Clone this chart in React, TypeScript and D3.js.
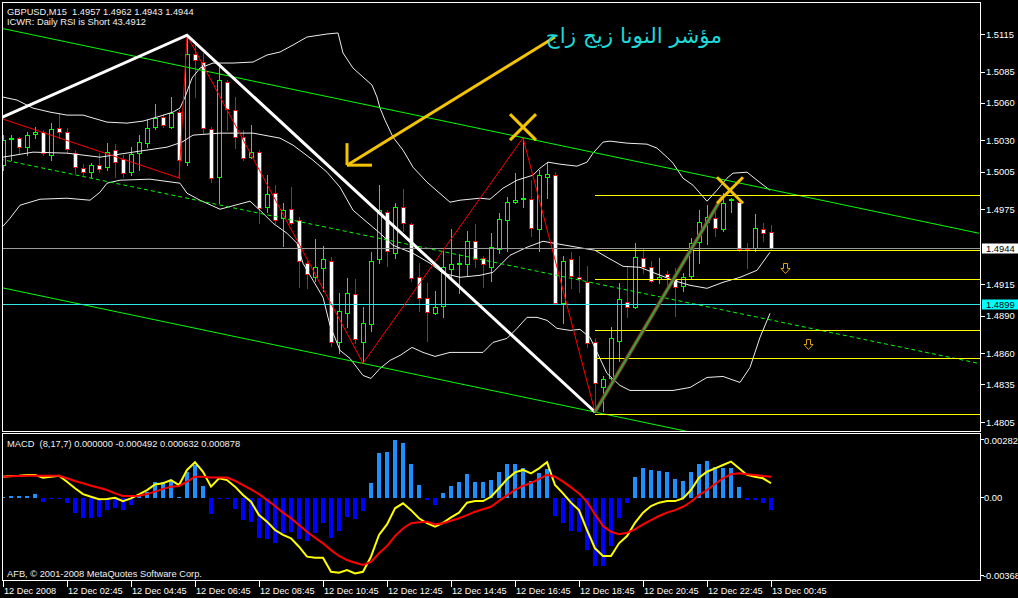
import React from "react";
import * as d3 from "d3";

// ---------- texts ----------
const symbolHeader = "GBPUSD,M15  1.4957 1.4962 1.4943 1.4944";
const infoLine = "ICWR: Daily RSI is Short 43.4912";
const macdHeader = "MACD  (8,17,7) 0.000000 -0.000492 0.000632 0.000878";
const copyright = "AFB, © 2001-2008 MetaQuotes Software Corp.";
const arabicNote = "مؤشر النونا زيج زاج";

// ---------- candles (M15, bar 0 .. 96) ----------
const opens = [
  1.5010, 1.5031, 1.5032, 1.5025, 1.5035, 1.5037, 1.5018, 1.5040, 1.5037, 1.5020,
  1.5008, 1.5005, 1.5010, 1.5009, 1.5022, 1.5015, 1.5005, 1.5020, 1.5028, 1.5041,
  1.5049, 1.5041, 1.5053, 1.5013, 1.5099, 1.5093, 1.5039, 1.5001, 1.5077, 1.5054,
  1.5033, 1.5017, 1.5021, 1.4977, 1.4988, 1.4968, 1.4975, 1.4966, 1.4932, 1.4921,
  1.4928, 1.4934, 1.4869, 1.4892, 1.4907, 1.4869, 1.4883, 1.4935, 1.4973, 1.4940,
  1.4977, 1.4963, 1.4921, 1.4904, 1.4892, 1.4898, 1.4927, 1.4931, 1.4931, 1.4950,
  1.4936, 1.4929, 1.4943, 1.4966, 1.4981, 1.4983, 1.4983, 1.4959, 1.5001, 1.5002,
  1.4900, 1.4935, 1.4921, 1.4917, 1.4869, 1.4833, 1.4840, 1.4870, 1.4901, 1.4897,
  1.4936, 1.4929, 1.4919, 1.4923, 1.4919, 1.4914, 1.4922, 1.4949, 1.4965, 1.4968,
  1.4959, 1.4982, 1.4981, 1.4944, 1.4944, 1.4959, 1.4957,
];
const highs = [
  1.5034, 1.5034, 1.5033, 1.5037, 1.5041, 1.5038, 1.5044, 1.5052, 1.5040, 1.5022,
  1.5011, 1.5012, 1.5020, 1.5028, 1.5027, 1.5018, 1.5025, 1.5034, 1.5046, 1.5059,
  1.5051, 1.5065, 1.5054, 1.5114, 1.5108, 1.5100, 1.5041, 1.5089, 1.5078, 1.5065,
  1.5038, 1.5042, 1.5022, 1.5002, 1.4994, 1.4980, 1.4993, 1.4969, 1.4934, 1.4951,
  1.4946, 1.4937, 1.4908, 1.4920, 1.4919, 1.4897, 1.4941, 1.4994, 1.4974, 1.4980,
  1.4991, 1.4964, 1.4932, 1.4916, 1.4910, 1.4942, 1.4959, 1.4939, 1.4958, 1.4963,
  1.4938, 1.4956, 1.4972, 1.4985, 1.5004, 1.5032, 1.4998, 1.5006, 1.5013, 1.5005,
  1.4938, 1.4941, 1.4938, 1.4930, 1.4872, 1.4842, 1.4881, 1.4916, 1.4930, 1.4948,
  1.4944, 1.4934, 1.4936, 1.4926, 1.4928, 1.4924, 1.4952, 1.4974, 1.4978, 1.4974,
  1.4988, 1.4984, 1.4984, 1.4948, 1.4971, 1.4964, 1.4962,
];
const lows = [
  1.5006, 1.5014, 1.5020, 1.5018, 1.5032, 1.5018, 1.5014, 1.5032, 1.5020, 1.5004,
  1.5002, 1.5001, 1.5005, 1.5006, 1.5001, 1.5001, 1.5002, 1.5006, 1.5025, 1.5039,
  1.5041, 1.5040, 1.5000, 1.5010, 1.5065, 1.5036, 1.4997, 1.4980, 1.5038, 1.5024,
  1.5014, 1.5016, 1.4964, 1.4973, 1.4964, 1.4946, 1.4963, 1.4913, 1.4912, 1.4918,
  1.4910, 1.4866, 1.4860, 1.4881, 1.4868, 1.4852, 1.4878, 1.4932, 1.4930, 1.4936,
  1.4958, 1.4918, 1.4894, 1.4870, 1.4891, 1.4889, 1.4921, 1.4908, 1.4922, 1.4929,
  1.4913, 1.4918, 1.4940, 1.4942, 1.4980, 1.4977, 1.4954, 1.4942, 1.4984, 1.4899,
  1.4884, 1.4912, 1.4909, 1.4865, 1.4813, 1.4814, 1.4836, 1.4854, 1.4889, 1.4896,
  1.4924, 1.4917, 1.4916, 1.4914, 1.4890, 1.4910, 1.4920, 1.4932, 1.4947, 1.4954,
  1.4958, 1.4973, 1.4942, 1.4928, 1.4942, 1.4950, 1.4943,
];
const closes = [
  1.5030, 1.5032, 1.5025, 1.5034, 1.5037, 1.5020, 1.5039, 1.5037, 1.5023, 1.5009,
  1.5005, 1.5010, 1.5007, 1.5021, 1.5013, 1.5004, 1.5019, 1.5029, 1.5040, 1.5048,
  1.5042, 1.5052, 1.5014, 1.5099, 1.5094, 1.5040, 1.5000, 1.5078, 1.5055, 1.5033,
  1.5016, 1.5021, 1.4976, 1.4987, 1.4966, 1.4974, 1.4964, 1.4934, 1.4923, 1.4929,
  1.4935, 1.4869, 1.4894, 1.4908, 1.4871, 1.4884, 1.4934, 1.4974, 1.4942, 1.4977,
  1.4964, 1.4920, 1.4904, 1.4893, 1.4897, 1.4929, 1.4931, 1.4932, 1.4950, 1.4935,
  1.4931, 1.4945, 1.4967, 1.4981, 1.4982, 1.4984, 1.4960, 1.5002, 1.5003, 1.4900,
  1.4934, 1.4922, 1.4919, 1.4868, 1.4836, 1.4839, 1.4872, 1.4903, 1.4897, 1.4937,
  1.4929, 1.4918, 1.4921, 1.4921, 1.4913, 1.4921, 1.4948, 1.4965, 1.4969, 1.4960,
  1.4980, 1.4983, 1.4943, 1.4943, 1.4960, 1.4956, 1.4944,
];

// ---------- Bollinger bands, read as [bar, price] ----------
const upperBand: [number, number][] = [
  [0, 1.50646], [1.75, 1.50622], [3.75, 1.50558], [5.875, 1.50526], [8, 1.50502], [10, 1.50502],
  [13, 1.50446], [15.5, 1.50438], [17.5, 1.50454], [19.25, 1.50486], [21.25, 1.50526], [22.125, 1.50558],
  [22.75, 1.50646], [23.625, 1.50798], [24.625, 1.50878], [26.25, 1.50918], [28.75, 1.50918], [31.25, 1.50926],
  [33, 1.50982], [34.625, 1.51006], [36.25, 1.51062], [38, 1.51126], [40.5, 1.5115], [41.875, 1.51158],
  [42.5, 1.50998], [43.75, 1.50878], [45, 1.50806], [46.125, 1.50742], [46.75, 1.50646], [47.125, 1.50558],
  [47.75, 1.50462], [48.75, 1.50326], [50, 1.50222], [51.25, 1.50086], [53, 1.49966], [55.875, 1.49806],
  [57.125, 1.49822], [59.625, 1.49838], [60.875, 1.4983], [62.5, 1.49918], [64.25, 1.49982], [66.25, 1.50022],
  [67.125, 1.50078], [68.125, 1.50126], [69.625, 1.5011], [71.75, 1.50094], [73, 1.50126], [73.75, 1.50198],
  [75, 1.50286], [75.875, 1.50294], [78, 1.50278], [80.5, 1.5027], [81.75, 1.50238], [83, 1.50166],
  [83.75, 1.50118], [85, 1.49998], [86.25, 1.49942], [88, 1.49814], [89.25, 1.49902], [90.5, 1.49998],
  [91.25, 1.50038], [93, 1.50046], [94.25, 1.49982], [95.875, 1.49902],
];
const middleBand: [number, number][] = [
  [0, 1.50166], [3.75, 1.50206], [8, 1.50198], [12.125, 1.50166], [16.25, 1.50206], [20.5, 1.50246],
  [22.375, 1.50286], [23.75, 1.50342], [27.125, 1.50358], [31.25, 1.50358], [34.625, 1.50318], [36.25, 1.50262],
  [38.75, 1.50142], [40.5, 1.50046], [42.125, 1.49926], [43.75, 1.49742], [45.5, 1.49646], [47.125, 1.49558],
  [48.75, 1.49462], [51.25, 1.49398], [53.375, 1.49318], [55, 1.49238], [57.125, 1.49206], [59.625, 1.49222],
  [61.25, 1.49246], [63.375, 1.49382], [65.5, 1.49446], [67.5, 1.49494], [69.625, 1.4947], [72.5, 1.49438],
  [74, 1.49422], [75.5, 1.49366], [77.5, 1.49294], [79.625, 1.49286], [83.75, 1.49182], [85.875, 1.49142],
  [88, 1.49118], [90, 1.49166], [92.125, 1.49206], [94.25, 1.49262], [95.875, 1.49406],
];
const lowerBand: [number, number][] = [
  [0, 1.49614], [0.875, 1.49678], [2.125, 1.49782], [4.625, 1.4983], [8, 1.49838], [10.875, 1.49822],
  [12.125, 1.49886], [13, 1.49958], [14.625, 1.49982], [18.375, 1.4999], [22.125, 1.49958], [23, 1.49878],
  [24.625, 1.49822], [27.125, 1.4975], [30.875, 1.49814], [32.125, 1.49742], [33.75, 1.49638], [35.5, 1.49558],
  [36.75, 1.49478], [37.5, 1.49318], [38.75, 1.49182], [40, 1.49046], [40.875, 1.48822], [42.125, 1.48622],
  [43.375, 1.48558], [45, 1.48422], [46, 1.48398], [47.125, 1.48478], [48.375, 1.48542], [49.625, 1.48582],
  [51.125, 1.48646], [52.5, 1.48606], [54, 1.48574], [55.875, 1.48606], [60, 1.48606], [61.25, 1.48686],
  [63, 1.48718], [64.25, 1.48798], [65.5, 1.48886], [66.75, 1.48886], [68, 1.48862], [69.25, 1.48798],
  [70.875, 1.48782], [72.125, 1.4879], [73.375, 1.48726], [75.5, 1.48438], [77.125, 1.48342], [78.375, 1.48302],
  [83.75, 1.48302], [85.875, 1.48326], [88, 1.48406], [90, 1.48414], [92.125, 1.48366], [93.375, 1.48486],
  [94.625, 1.48726], [95.875, 1.48918],
];

// ---------- MACD panel ----------
const macdHist = [
  0.00002, 0.00007, 0.00007, 0.00009, 0.00016, -0.00018, -0.00006, -0.00003, -0.00025, -0.00066,
  -0.00089, -0.00089, -0.00084, -0.00054, -0.00044, -0.00054, -0.00032, 0.00009, 0.00027, 0.00071,
  0.00071, 0.00078, 0.00004, 0.00115, 0.00145, 0.00052, -0.0007, -0.00003, -0.00003, -0.0005,
  -0.00099, -0.00106, -0.00177, -0.00183, -0.00199, -0.00158, -0.00154, -0.00183, -0.0019, -0.00158,
  -0.00111, -0.00177, -0.00146, -0.00084, -0.00094, -0.00059, 0.00066, 0.00199, 0.00204, 0.00256,
  0.00244, 0.00148, 0.00056, -0.00008, -0.00032, 0.00022, 0.00052, 0.00068, 0.00105, 0.00071,
  0.00068, 0.00078, 0.00115, 0.00148, 0.00148, 0.00132, 0.00075, 0.00108, 0.00127, -0.0008,
  -0.00114, -0.00146, -0.00154, -0.0023, -0.00301, -0.00301, -0.00213, -0.00092, -0.00025, 0.0009,
  0.0013, 0.00124, 0.0012, 0.00112, 0.00081, 0.00075, 0.00112, 0.00148, 0.00161, 0.00134,
  0.00132, 0.00132, 0.00046, -0.00012, -0.00012, -0.00025, -0.00053,
];
const macdMain = [
  0.00093, 0.00096, 0.00097, 0.00101, 0.00101, 0.00089, 0.00093, 0.00097, 0.00071, 0.00042,
  0.00016, 0.00004, -0.00007, -0.00006, 0.0, -0.00015, -0.00003, 0.00015, 0.00034, 0.00059,
  0.00064, 0.00078, 0.00056, 0.00123, 0.00157, 0.00115, 0.00049, 0.00086, 0.00078, 0.00049,
  0.00012, -0.00018, -0.00077, -0.00106, -0.00143, -0.00165, -0.0018, -0.00217, -0.00261, -0.00266,
  -0.00266, -0.00328, -0.00332, -0.0032, -0.00335, -0.00328, -0.00261, -0.00165, -0.00118, -0.00047,
  -0.00025, -0.00055, -0.00091, -0.00113, -0.00128, -0.00111, -0.00087, -0.00066, -0.00022, -0.00015,
  -0.00015, 0.00004, 0.00042, 0.00082, 0.00112, 0.00123, 0.00108, 0.0013, 0.00157, 0.00056,
  0.00019, -0.00022, -0.00055, -0.00143, -0.00224, -0.00258, -0.00258, -0.00202, -0.0017, -0.00111,
  -0.00066, -0.00037, -0.00022, -0.00015, -0.00015, -0.00003, 0.00034, 0.00089, 0.00115, 0.0013,
  0.00145, 0.0016, 0.0013, 0.00101, 0.00093, 0.00086, 0.00064,
];
const macdSignal = [
  0.00093, 0.00095, 0.00096, 0.00097, 0.00097, 0.00097, 0.00097, 0.00097, 0.00086, 0.00074,
  0.00064, 0.00053, 0.00044, 0.00034, 0.00019, 0.00008, 0.00008, 0.00009, 0.00016, 0.00027,
  0.00039, 0.00049, 0.00052, 0.00071, 0.00093, 0.00093, 0.00089, 0.00089, 0.00089, 0.00075,
  0.00056, 0.00037, 0.00016, -0.0001, -0.00037, -0.00066, -0.00091, -0.00121, -0.00151, -0.00177,
  -0.00202, -0.00232, -0.00258, -0.00276, -0.00288, -0.00298, -0.00284, -0.00246, -0.00214, -0.0017,
  -0.00136, -0.00113, -0.00109, -0.00106, -0.00118, -0.00113, -0.00102, -0.00091, -0.00077, -0.00062,
  -0.00051, -0.0004, -0.00014, 0.0001, 0.00035, 0.00052, 0.00066, 0.00082, 0.00101, 0.00093,
  0.00071, 0.00046, 0.00019, -0.00018, -0.00074, -0.00125, -0.00151, -0.00162, -0.00155, -0.0014,
  -0.00118, -0.00099, -0.00081, -0.00066, -0.00055, -0.0004, -0.00018, 0.00012, 0.00034, 0.00061,
  0.00086, 0.00104, 0.00108, 0.00104, 0.00101, 0.00096, 0.00093,
];

// ---------- axes ----------
const priceTicks = [1.5115, 1.5085, 1.506, 1.503, 1.5005, 1.4975, 1.4915, 1.489, 1.486, 1.4835, 1.4805];
const bidPrice = 1.4944;
const alertPrice = 1.4899;
const dateTickBars = [0, 8, 16, 24, 32, 40, 48, 56, 64, 72, 80, 88, 96];
const dateTickLabels = [
  "12 Dec 2008", "12 Dec 02:45", "12 Dec 04:45", "12 Dec 06:45", "12 Dec 08:45", "12 Dec 10:45",
  "12 Dec 12:45", "12 Dec 14:45", "12 Dec 16:45", "12 Dec 18:45", "12 Dec 20:45", "12 Dec 22:45",
  "13 Dec 00:45",
];
const macdMax = 0.002821;
const macdMin = -0.003688;
const macdTickLabels = ["0.002821", "0.00", "-0.003688"];

// ---------- chart objects ----------
const channelBars = [-0.375, 122];
const channelUpper = [1.51198, 1.49558];
const channelMiddle = [1.5015, 1.48518];
const channelLower = [1.49126, 1.47486];
const redZigzag: [number, number][] = [
  [-0.375, 1.50478], [22, 1.5], [23, 1.5114], [45, 1.4852], [65, 1.5032], [74, 1.4813], [90, 1.4986],
];
const whiteZigzag: [number, number][] = [[-0.375, 1.50478], [23, 1.5114], [74, 1.4813]];
const trendLine: [number, number][] = [[74, 1.4813], [90, 1.4986]];
const fibStartBar = 74;
const fibLevels = [1.4986, 1.49428, 1.49196, 1.48788, 1.48558, 1.48116];
const arrowTail: [number, number] = [69, 1.51126];
const arrowHead: [number, number] = [43, 1.50102];
const crossMarks: [number, number][] = [[65, 1.50406], [90.875, 1.49902]];
const downArrows: [number, number][] = [[97.75, 1.49278], [100.625, 1.4867]];
const noteAnchor: [number, number] = [89.875, 1.5108];

const FONT = "'Liberation Sans', Arial, sans-serif";

export default function App() {
  const x = d3.scaleLinear().domain([0, 96]).range([3, 771]);
  const y = d3.scaleLinear().domain([1.4805, 1.5115]).range([422, 34]);
  const ym = d3.scaleLinear().domain([macdMin, macdMax]).range([581, 434]);
  const pl = d3.line<[number, number]>().x((d) => x(d[0])).y((d) => y(d[1]));
  const ml = d3
    .line<number>()
    .x((_, i) => x(i))
    .y((d) => ym(d));

  const right = 980;
  const mainBottom = 431;
  const macdTop = 433;
  const macdBottom = 580;
  const zeroY = Math.round(ym(0));

  const channel = (vals: number[]) =>
    pl([
      [channelBars[0], vals[0]],
      [channelBars[1], vals[1]],
    ]);

  const [ax, ay] = [x(arrowHead[0]), y(arrowHead[1])];

  return (
    <svg
      width={1018}
      height={598}
      style={{ position: "absolute", left: 0, top: 0, background: "#000" }}
      fontFamily={FONT}
    >
      <defs>
        <clipPath id="mainClip">
          <rect x={3} y={3} width={right - 3} height={mainBottom - 3} />
        </clipPath>
        <clipPath id="macdClip">
          <rect x={3} y={macdTop + 1} width={right - 3} height={macdBottom - macdTop - 1} />
        </clipPath>
      </defs>
      <rect x={0} y={0} width={1018} height={598} fill="#000" />

      {/* ---------- main panel ---------- */}
      <g clipPath="url(#mainClip)">
        {/* candles */}
        <g shapeRendering="crispEdges">
          {opens.map((o, i) => {
            const c = closes[i];
            const bull = c >= o;
            const cx = Math.round(x(i));
            const col = bull ? "#00FF00" : "#FF0000";
            const yt = Math.round(y(Math.max(o, c)));
            const yb = Math.round(y(Math.min(o, c)));
            return (
              <g key={i}>
                <line
                  x1={cx + 0.5}
                  x2={cx + 0.5}
                  y1={Math.round(y(highs[i]))}
                  y2={Math.round(y(lows[i])) + 1}
                  stroke={col}
                />
                <rect
                  x={cx - 1.5}
                  y={yt + 0.5}
                  width={4}
                  height={Math.max(0, yb - yt)}
                  fill={bull ? "#000" : "#FFF"}
                  stroke={col}
                />
              </g>
            );
          })}
        </g>

        {/* bollinger bands */}
        {[upperBand, middleBand, lowerBand].map((b, k) => (
          <path key={k} d={pl(b) || ""} fill="none" stroke="#EDEDED" strokeWidth={1} />
        ))}

        {/* channel */}
        <path d={channel(channelUpper) || ""} stroke="#00FF00" strokeWidth={1} fill="none" />
        <path d={channel(channelMiddle) || ""} stroke="#00FF00" strokeWidth={1} strokeDasharray="4,3" fill="none" />
        <path d={channel(channelLower) || ""} stroke="#00FF00" strokeWidth={1} fill="none" />

        {/* bid & alert lines */}
        <line x1={3} x2={right} y1={Math.round(y(bidPrice)) + 0.5} y2={Math.round(y(bidPrice)) + 0.5} stroke="#9A9A9A" />
        <line x1={3} x2={right} y1={Math.round(y(alertPrice)) + 0.5} y2={Math.round(y(alertPrice)) + 0.5} stroke="#33E6E6" />

        {/* fib levels */}
        {fibLevels.map((p, k) => (
          <line
            key={k}
            x1={x(fibStartBar)}
            x2={right}
            y1={Math.round(y(p)) + 0.5}
            y2={Math.round(y(p)) + 0.5}
            stroke="#FFFF00"
          />
        ))}

        {/* zigzags */}
        <path d={pl(redZigzag) || ""} fill="none" stroke="#FF0000" strokeWidth={1} />
        <path d={pl(whiteZigzag) || ""} fill="none" stroke="#FFFFFF" strokeWidth={3} />
        <path d={pl(trendLine) || ""} fill="none" stroke="#8A2A1A" strokeWidth={4} />
        <path d={pl(trendLine) || ""} fill="none" stroke="#3A9E3A" strokeWidth={2.2} />

        {/* yellow arrow */}
        <g stroke="#F5C400" strokeWidth={3} fill="none" strokeLinecap="butt">
          <line x1={x(arrowTail[0])} y1={y(arrowTail[1])} x2={ax} y2={ay} />
          <line x1={ax} y1={ay} x2={ax} y2={ay - 22} />
          <line x1={ax} y1={ay} x2={ax + 25} y2={ay} />
        </g>

        {/* crosses */}
        {crossMarks.map(([b, p], k) => {
          const cx = x(b);
          const cy = y(p);
          return (
            <g key={k} stroke="#F5C400" strokeWidth={3}>
              <line x1={cx - 13} y1={cy - 13} x2={cx + 13} y2={cy + 13} />
              <line x1={cx - 13} y1={cy + 13} x2={cx + 13} y2={cy - 13} />
            </g>
          );
        })}

        {/* down arrows */}
        {downArrows.map(([b, p], k) => {
          const cx = Math.round(x(b)) + 0.5;
          const cy = Math.round(y(p)) + 0.5;
          const d = `M${cx - 2},${cy - 5} L${cx + 2},${cy - 5} L${cx + 2},${cy} L${cx + 4.5},${cy} L${cx},${cy + 5} L${cx - 4.5},${cy} L${cx - 2},${cy} Z`;
          return <path key={k} d={d} fill="none" stroke="#E0A010" strokeWidth={1} />;
        })}

        {/* arabic note */}
        <text
          x={x(noteAnchor[0])}
          y={y(noteAnchor[1])}
          textAnchor="end"
          fontFamily="'DejaVu Sans', sans-serif"
          fontSize={21.5}
          fill="#1ED8D8"
        >
          {arabicNote}
        </text>
      </g>

      {/* header texts */}
      <text x={7} y={14.5} fontSize={9.3} fill="#F0F0F0">
        {symbolHeader.replace("  ", "\u00A0\u00A0")}
      </text>
      <text x={7} y={24.5} fontSize={9.3} fill="#F0F0F0">
        {infoLine}
      </text>

      {/* ---------- MACD panel ---------- */}
      <g clipPath="url(#macdClip)" shapeRendering="crispEdges">
        {macdHist.map((v, i) => {
          const cx = Math.round(x(i));
          const yv = Math.round(ym(v));
          const top = v >= 0 ? Math.min(yv, zeroY - 1) : zeroY;
          const h = v >= 0 ? zeroY - top : Math.max(1, yv - zeroY);
          return (
            <rect key={i} x={cx - 2} y={top} width={4} height={h} fill={v >= 0 ? "#1E90FF" : "#0000FF"} />
          );
        })}
      </g>
      <g clipPath="url(#macdClip)">
        <path d={ml(macdMain) || ""} fill="none" stroke="#FFFF00" strokeWidth={2} />
        <path d={ml(macdSignal) || ""} fill="none" stroke="#FF0000" strokeWidth={2} />
      </g>
      <text x={7} y={446.5} fontSize={9.3} fill="#F0F0F0">
        {macdHeader.replace("  ", "\u00A0\u00A0")}
      </text>
      <text x={7} y={576.5} fontSize={9.3} fill="#F0F0F0">
        {copyright}
      </text>

      {/* ---------- frames ---------- */}
      <g fill="none" stroke="#FFFFFF" strokeWidth={1} shapeRendering="crispEdges">
        <rect x={2.5} y={2.5} width={right - 2} height={mainBottom - 2} />
        <rect x={2.5} y={macdTop + 0.5} width={right - 2} height={macdBottom - macdTop} />
      </g>

      {/* price axis */}
      <g shapeRendering="crispEdges">
        {priceTicks.map((p, k) => {
          const yy = Math.round(y(p)) + 0.5;
          return <line key={k} x1={right} x2={right + 5} y1={yy} y2={yy} stroke="#FFFFFF" />;
        })}
      </g>
      {priceTicks.map((p, k) => (
        <text key={k} x={986} y={y(p) + 3.5} fontSize={9.4} fill="#FFFFFF">
          {p.toFixed(4)}
        </text>
      ))}
      <rect x={982} y={Math.round(y(bidPrice)) - 4.5} width={36} height={10} fill="#FFFFFF" />
      <text x={986} y={y(bidPrice) + 3.5} fontSize={9.4} fill="#000000">
        {bidPrice.toFixed(4)}
      </text>
      <rect x={982} y={Math.round(y(alertPrice)) - 4.5} width={36} height={10} fill="#00FFFF" />
      <text x={986} y={y(alertPrice) + 3.5} fontSize={9.4} fill="#000000">
        {alertPrice.toFixed(4)}
      </text>

      {/* MACD axis */}
      <g shapeRendering="crispEdges" stroke="#FFFFFF">
        <line x1={right} x2={right + 4} y1={Math.round(ym(macdMax)) + 5.5} y2={Math.round(ym(macdMax)) + 5.5} />
        <line x1={right} x2={right + 4} y1={zeroY - 0.5} y2={zeroY - 0.5} />
        <line x1={right} x2={right + 4} y1={Math.round(ym(macdMin)) - 5.5} y2={Math.round(ym(macdMin)) - 5.5} />
      </g>
      <text x={984} y={ym(macdMax) + 9.5} fontSize={9.4} fill="#FFFFFF">
        {macdTickLabels[0]}
      </text>
      <text x={984} y={ym(0) + 3} fontSize={9.4} fill="#FFFFFF">
        {macdTickLabels[1]}
      </text>
      <text x={983} y={ym(macdMin) - 2.5} fontSize={9.4} fill="#FFFFFF">
        {macdTickLabels[2]}
      </text>

      {/* time axis */}
      <g shapeRendering="crispEdges" stroke="#FFFFFF">
        {dateTickBars.map((b, k) => (
          <line key={k} x1={Math.round(x(b)) + 0.5} x2={Math.round(x(b)) + 0.5} y1={macdBottom + 1} y2={macdBottom + 7} />
        ))}
      </g>
      {dateTickBars.map((b, k) => (
        <text key={k} x={x(b) + 1} y={594} fontSize={9.2} fill="#FFFFFF">
          {dateTickLabels[k]}
        </text>
      ))}
    </svg>
  );
}
